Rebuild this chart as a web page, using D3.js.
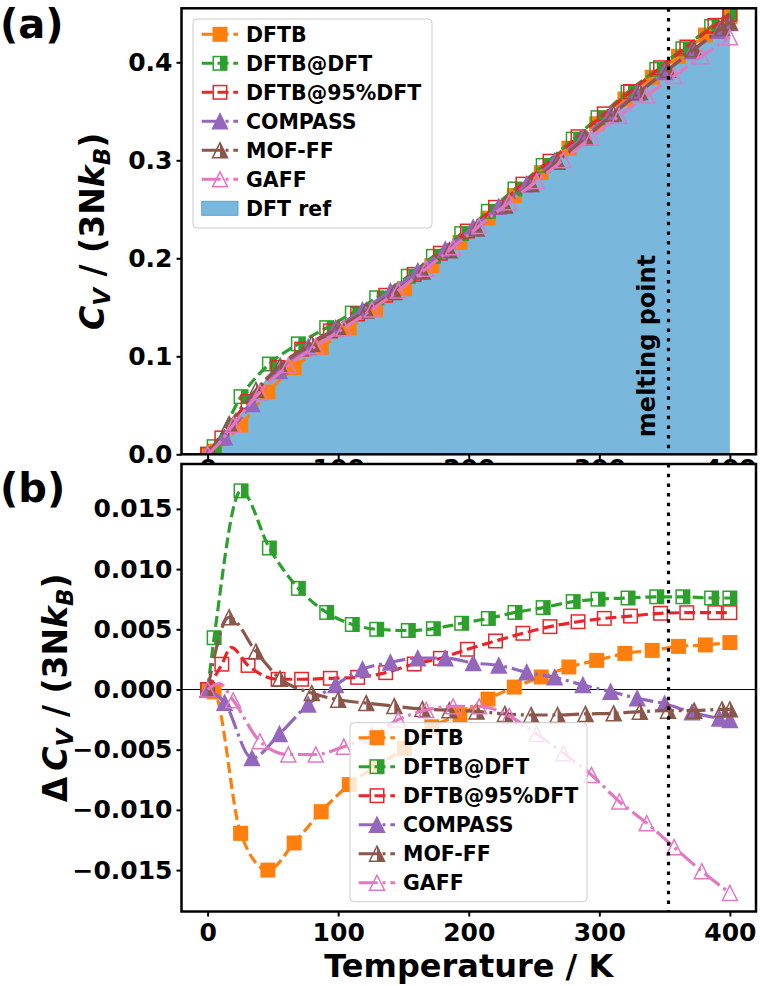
<!DOCTYPE html>
<html><head><meta charset="utf-8">
<script src="https://cdn.jsdelivr.net/npm/d3@7"></script>
<style>
body{margin:0;background:#fff}
svg{display:block}
text{font-family:"DejaVu Sans",sans-serif;font-weight:bold;fill:#000}
</style></head>
<body><svg id="chart" width="760" height="986"></svg>
<script>
// ---------------- DATA ----------------
const xTicks = [0, 100, 200, 300, 400];
const yTicksTop = [0, 0.1, 0.2, 0.3, 0.4];
const yTicksBot = [-0.015, -0.010, -0.005, 0, 0.005, 0.010, 0.015];
const meltingT = 353;

// DFT reference heat capacity (fill)
const refT  = [0, 5, 26, 47, 68, 89, 110, 131, 152, 173, 194, 215, 236, 257, 278, 299, 320, 341, 362, 383, 400];
const refCv = [0, 0.0035, 0.043, 0.080, 0.103, 0.121, 0.138, 0.156, 0.175, 0.197, 0.219, 0.242, 0.265, 0.288, 0.312, 0.336, 0.360, 0.382, 0.404, 0.426, 0.4425];

// DFTB
const dftbT  = [0, 5, 25.3, 46.2, 66.3, 87, 108.5, 128.6, 150.8, 171.7, 193.3, 214.8, 234.9, 255.5, 276.7, 298, 319.6, 340.5, 360.7, 381.2, 400];
const dftbCv = [0, 0.0033, 0.0298, 0.0636, 0.0884, 0.1092, 0.1289, 0.1475, 0.1690, 0.1925, 0.2162, 0.2410, 0.2640, 0.2874, 0.3124, 0.3373, 0.3625, 0.3848, 0.4062, 0.4278, 0.4464];
const dftbD  = [0, -0.0002, -0.01195, -0.0150, -0.01275, -0.01015, -0.0079, -0.0064, -0.0049, -0.0031, -0.0021, -0.0008, 0.0002, 0.00104, 0.00187, 0.00242, 0.0030, 0.00325, 0.00358, 0.0037, 0.0039];
const dftbM  = [1,1,1,1,1,1,1,1,1,1,1,1,1,1,1,1,1,1,1,1,1];

// DFTB@DFT
const dftbDftT  = [0, 5, 25.6, 47.3, 69.5, 91.2, 110.8, 129.5, 153.7, 172.9, 194.6, 215, 235.4, 257, 280, 299, 322, 344, 364, 386, 400];
const dftbDftCv = [0, 0.0078, 0.0588, 0.0921, 0.1127, 0.1292, 0.1441, 0.1597, 0.1817, 0.2020, 0.2252, 0.2479, 0.2707, 0.2948, 0.3216, 0.3435, 0.3697, 0.3928, 0.4138, 0.4365, 0.4501];
const dftbDftD  = [0, 0.0043, 0.0165, 0.01175, 0.0084, 0.0064, 0.0054, 0.0050, 0.0049, 0.00505, 0.0055, 0.0059, 0.0064, 0.0068, 0.0073, 0.0075, 0.0076, 0.0077, 0.0077, 0.0076, 0.0076];
const dftbDftM  = [1,1,1,1,1,1,1,1,1,1,1,1,1,1,1,1,1,1,1,1,1];

// DFTB@95%DFT
const dftb95T  = [0, 10.9, 18, 31, 54, 72, 94, 114.9, 136.4, 158.2, 178.3, 199, 220.5, 241.5, 262.2, 283.7, 303.8, 323.9, 346.9, 367, 388.5, 400];
const dftb95Cv = [0, 0.0167, 0.0315, 0.0538, 0.0886, 0.1073, 0.1259, 0.1432, 0.1623, 0.1836, 0.2052, 0.2278, 0.2520, 0.2757, 0.2991, 0.3241, 0.3474, 0.3702, 0.3945, 0.4156, 0.4377, 0.4489];
const dftb95D  = [0, 0.0021, 0.0035, 0.0020, 0.00085, 0.00085, 0.00093, 0.00101, 0.0014, 0.00212, 0.00259, 0.00334, 0.00403, 0.00467, 0.00522, 0.00563, 0.00591, 0.0061, 0.00633, 0.00638, 0.00638, 0.00638];
const dftb95M  = [1,1,0,1,1,1,1,1,1,1,1,1,1,1,1,1,1,1,1,1,1,1];

// COMPASS
const compassT  = [0, 13, 34, 55, 77, 98, 118.6, 140, 161, 182, 203.4, 223, 244.4, 265.8, 287.4, 308.7, 329, 350, 371, 392, 400];
const compassCv = [0, 0.0174, 0.0514, 0.0851, 0.1095, 0.1287, 0.1471, 0.1664, 0.1870, 0.2090, 0.2315, 0.2528, 0.2756, 0.2991, 0.3231, 0.3469, 0.3687, 0.3902, 0.4115, 0.4323, 0.4400];
const compassD  = [0, -0.0011, -0.0057, -0.0037, -0.00125, 0.00037, 0.00168, 0.00225, 0.0026, 0.0026, 0.0022, 0.0020, 0.00143, 0.00101, 0.00037, -0.00018, -0.00073, -0.00118, -0.0019, -0.0024, -0.00253];
const compassM  = [1,1,1,1,1,1,1,1,1,1,1,1,1,1,1,1,1,1,1,1,1];

// MOF-FF
const moffT  = [0, 16.5, 37, 55.5, 79.8, 100, 121.5, 143, 164.5, 185.2, 206, 227.7, 247.8, 268, 289.4, 311, 331, 352.6, 372.7, 394, 400];
const moffCv = [0, 0.0311, 0.0656, 0.0902, 0.1128, 0.1291, 0.1468, 0.1655, 0.1865, 0.2081, 0.2303, 0.2539, 0.2758, 0.2985, 0.3230, 0.3477, 0.3697, 0.3924, 0.4134, 0.4351, 0.4409];
const moffD  = [0, 0.0060, 0.00315, 0.0009, -0.0003, -0.00085, -0.00113, -0.00138, -0.00162, -0.00172, -0.00182, -0.00203, -0.00212, -0.00212, -0.00203, -0.00198, -0.00184, -0.00176, -0.00176, -0.00165, -0.00165];
const moffM  = [1,1,1,1,1,1,1,1,1,1,1,1,1,1,1,1,1,1,1,1,1];

// GAFF
const gaffT  = [0, 9, 19.6, 40, 61.8, 82.8, 104.3, 125.8, 146, 167.4, 188, 208, 231, 252, 272.5, 294, 315.3, 336.3, 357.3, 378.5, 400];
const gaffCv = [0, 0.0115, 0.0301, 0.0634, 0.0908, 0.1103, 0.1287, 0.1477, 0.1671, 0.1894, 0.2113, 0.2329, 0.2573, 0.2788, 0.3004, 0.3232, 0.3453, 0.3660, 0.3860, 0.4062, 0.4256];
const gaffD  = [0, 0.0005, -0.0009, -0.0043, -0.0054, -0.0054, -0.00475, -0.0038, -0.0025, -0.0017, -0.0014, -0.0014, -0.0022, -0.0037, -0.0053, -0.0071, -0.0093, -0.0111, -0.0131, -0.0151, -0.0169];
const gaffM  = [1,0,1,1,1,1,1,1,1,1,1,1,1,1,1,1,1,1,1,1,1];

const seriesNames = ["DFTB", "DFTB@DFT", "DFTB@95%DFT", "COMPASS", "MOF-FF", "GAFF"];
// --------------------------------------

const series = [
  {name: seriesNames[0], T: dftbT, cv: dftbCv, d: dftbD, m: dftbM, color: "#ff7f0e", dash: "11,4.8", shape: "sq", fill: "full"},
  {name: seriesNames[1], T: dftbDftT, cv: dftbDftCv, d: dftbDftD, m: dftbDftM, color: "#2ca02c", dash: "11,4.8", shape: "sq", fill: "right"},
  {name: seriesNames[2], T: dftb95T, cv: dftb95Cv, d: dftb95D, m: dftb95M, color: "#e8262a", dash: "11,4.8", shape: "sq", fill: "none"},
  {name: seriesNames[3], T: compassT, cv: compassCv, d: compassD, m: compassM, color: "#9467bd", dash: "19,4.8,3,4.8", shape: "tri", fill: "full"},
  {name: seriesNames[4], T: moffT, cv: moffCv, d: moffD, m: moffM, color: "#8c564b", dash: "19,4.8,3,4.8", shape: "tri", fill: "right"},
  {name: seriesNames[5], T: gaffT, cv: gaffCv, d: gaffD, m: gaffM, color: "#e377c2", dash: "19,4.8,3,4.8", shape: "tri", fill: "none"}
];

const svg = d3.select("#chart");
const xL = 181.5, xR = 756;
const topY0 = 8.3, topY1 = 454.3, botY0 = 464, botY1 = 911.5;
const x = d3.scaleLinear().domain([-20, 420]).range([xL, xR]);
const yTop = d3.scaleLinear().domain([0, 0.4551]).range([topY1, topY0]);
const yBot = d3.scaleLinear().domain([-0.01844, 0.01873]).range([botY1, botY0]);
const refColor = "#79b8dc";
const tickFont = 25;

function marker(g, s, cx, cy) {
  const sz = s.shape === "sq" ? 13.5 : 15;
  const h = sz / 2;
  if (s.shape === "sq") {
    if (s.fill === "full") {
      g.append("rect").attr("x", cx - h).attr("y", cy - h).attr("width", sz).attr("height", sz)
        .attr("fill", s.color).attr("stroke", s.color).attr("stroke-width", 1.5);
    } else {
      if (s.fill === "right") g.append("rect").attr("x", cx).attr("y", cy - h).attr("width", h).attr("height", sz).attr("fill", s.color);
      g.append("rect").attr("x", cx - h).attr("y", cy - h).attr("width", sz).attr("height", sz)
        .attr("fill", "none").attr("stroke", s.color).attr("stroke-width", 1.5);
    }
  } else {
    const pts = [[cx, cy - h], [cx - h, cy + h], [cx + h, cy + h]];
    if (s.fill === "full") {
      g.append("polygon").attr("points", pts.join(" ")).attr("fill", s.color).attr("stroke", s.color).attr("stroke-width", 1.5).attr("stroke-linejoin", "miter");
    } else {
      if (s.fill === "right") g.append("polygon").attr("points", [[cx, cy - h], [cx, cy + h], [cx + h, cy + h]].join(" ")).attr("fill", s.color);
      g.append("polygon").attr("points", pts.join(" ")).attr("fill", "none").attr("stroke", s.color).attr("stroke-width", 1.5).attr("stroke-linejoin", "miter");
    }
  }
}

function drawSeries(g, y, key) {
  series.forEach(s => {
    const pts = s.T.map((t, i) => [t, s[key][i], s.m[i]]);
    g.append("path").attr("d", d3.line().x(d => x(d[0])).y(d => y(d[1])).curve(d3.curveMonotoneX)(pts))
      .attr("fill", "none").attr("stroke", s.color).attr("stroke-width", 3.2).attr("stroke-dasharray", s.dash);
    const mg = g.append("g");
    pts.filter(d => d[2]).forEach(d => marker(mg, s, x(d[0]), y(d[1])));
  });
}

function legend(g, left, top, right, bottom, firstY, items, withRef) {
  g.append("rect").attr("x", left).attr("y", top).attr("width", right - left).attr("height", bottom - top)
    .attr("rx", 4).attr("fill", "#fff").attr("fill-opacity", 0.8).attr("stroke", "#cccccc").attr("stroke-width", 1);
  items.forEach((s, i) => {
    const cy = firstY + 29 * i;
    g.append("line").attr("x1", left + 8.7).attr("x2", left + 45).attr("y1", cy).attr("y2", cy)
      .attr("stroke", s.color).attr("stroke-width", 3).attr("stroke-dasharray", s.dash);
    marker(g, s, left + 27, cy);
    g.append("text").attr("x", left + 53).attr("y", cy).attr("dy", "0.36em").attr("font-size", 20.5).text(s.name);
  });
  if (withRef) {
    const cy = firstY + 29 * items.length;
    g.append("rect").attr("x", left + 8.7).attr("y", cy - 7).attr("width", 36.3).attr("height", 14)
      .attr("fill", refColor).attr("stroke", "#5fa3cf").attr("stroke-width", 1);
    g.append("text").attr("x", left + 53).attr("y", cy).attr("dy", "0.36em").attr("font-size", 20.5).text("DFT ref");
  }
}

function styleAxis(a) {
  a.select(".domain").remove();
  a.selectAll(".tick line").attr("stroke", "#000").attr("stroke-width", 2);
  a.selectAll(".tick text").attr("font-size", tickFont).attr("font-family", "DejaVu Sans").attr("font-weight", "bold").attr("fill", "#000");
}

function ylabel(g, cx, cy, withDelta) {
  const t = g.append("text").attr("transform", `translate(${cx},${cy}) rotate(-90)`)
    .attr("text-anchor", "middle").attr("dy", "0.36em").attr("font-size", 33);
  if (withDelta) t.append("tspan").text("Δ");
  t.append("tspan").attr("font-style", "italic").attr("dx", withDelta ? 6 : 0).text("C");
  t.append("tspan").attr("font-style", "italic").attr("font-size", 23).attr("dy", "6").text("V");
  t.append("tspan").attr("dy", "-6").text(" / (3N");
  t.append("tspan").attr("font-style", "italic").text("k");
  t.append("tspan").attr("font-style", "italic").attr("font-size", 23).attr("dy", "6").text("B");
  t.append("tspan").attr("dy", "-6").text(")");
}

svg.append("rect").attr("width", 760).attr("height", 986).attr("fill", "#fff");

const defs = svg.append("defs");
defs.append("clipPath").attr("id", "clipTop").append("rect").attr("x", xL).attr("y", topY0).attr("width", xR - xL).attr("height", topY1 - topY0);
defs.append("clipPath").attr("id", "clipBot").append("rect").attr("x", xL).attr("y", botY0).attr("width", xR - xL).attr("height", botY1 - botY0);

// -------- panel (a) ----------
const gA = svg.append("g");
const ax1 = gA.append("g").attr("transform", `translate(0,${topY1})`)
  .call(d3.axisBottom(x).tickValues(xTicks).tickSize(5).tickPadding(0));
styleAxis(ax1);
const ay1 = gA.append("g").attr("transform", `translate(${xL},0)`)
  .call(d3.axisLeft(yTop).tickValues(yTicksTop).tickFormat(d3.format(".1f")).tickSize(5).tickPadding(4));
styleAxis(ay1);

const pA = gA.append("g").attr("clip-path", "url(#clipTop)");
const refPts = refT.map((t, i) => [t, refCv[i]]);
pA.append("path").attr("d", d3.area().x(d => x(d[0])).y0(yTop(0)).y1(d => yTop(d[1])).curve(d3.curveMonotoneX)(refPts))
  .attr("fill", refColor);
drawSeries(pA, yTop, "cv");
pA.append("line").attr("x1", x(meltingT)).attr("x2", x(meltingT)).attr("y1", topY0).attr("y2", topY1)
  .attr("stroke", "#000").attr("stroke-width", 3.2).attr("stroke-dasharray", "3.5,6.2");
gA.append("text").attr("transform", `translate(${x(meltingT) - 22},346) rotate(-90)`).attr("text-anchor", "middle")
  .attr("dy", "0.36em").attr("font-size", 24).text("melting point");
legend(gA, 193, 19, 432, 228, 34.3, series, true);
gA.append("rect").attr("x", xL).attr("y", topY0).attr("width", xR - xL).attr("height", topY1 - topY0)
  .attr("fill", "none").attr("stroke", "#000").attr("stroke-width", 2.5);
ylabel(gA, 92.5, (topY0 + topY1) / 2, false);
svg.append("text").attr("x", 0).attr("y", 38).attr("font-size", 40).text("(a)");

// -------- panel (b) ----------
const gB = svg.append("g");
gB.append("rect").attr("x", xL).attr("y", botY0).attr("width", xR - xL).attr("height", botY1 - botY0).attr("fill", "#fff");
const ax2 = gB.append("g").attr("transform", `translate(0,${botY1})`)
  .call(d3.axisBottom(x).tickValues(xTicks).tickSize(5).tickPadding(7));
styleAxis(ax2);
const ay2 = gB.append("g").attr("transform", `translate(${xL},0)`)
  .call(d3.axisLeft(yBot).tickValues(yTicksBot).tickFormat(d3.format(".3f")).tickSize(5).tickPadding(4));
styleAxis(ay2);

const pB = gB.append("g").attr("clip-path", "url(#clipBot)");
pB.append("line").attr("x1", xL).attr("x2", xR).attr("y1", yBot(0)).attr("y2", yBot(0)).attr("stroke", "#000").attr("stroke-width", 1);
drawSeries(pB, yBot, "d");
pB.append("line").attr("x1", x(meltingT)).attr("x2", x(meltingT)).attr("y1", botY0).attr("y2", botY1)
  .attr("stroke", "#000").attr("stroke-width", 3.2).attr("stroke-dasharray", "3.5,6.2");
legend(gB, 350, 722.7, 587, 901.7, 737.7, series, false);
gB.append("rect").attr("x", xL).attr("y", botY0).attr("width", xR - xL).attr("height", botY1 - botY0)
  .attr("fill", "none").attr("stroke", "#000").attr("stroke-width", 2.5);
ylabel(gB, 55, (botY0 + botY1) / 2, true);

svg.append("text").attr("x", 0).attr("y", 502).attr("font-size", 40).text("(b)");
svg.append("text").attr("x", (xL + xR) / 2).attr("y", 976.5).attr("text-anchor", "middle").attr("font-size", 32).text("Temperature / K");
</script></body></html>
